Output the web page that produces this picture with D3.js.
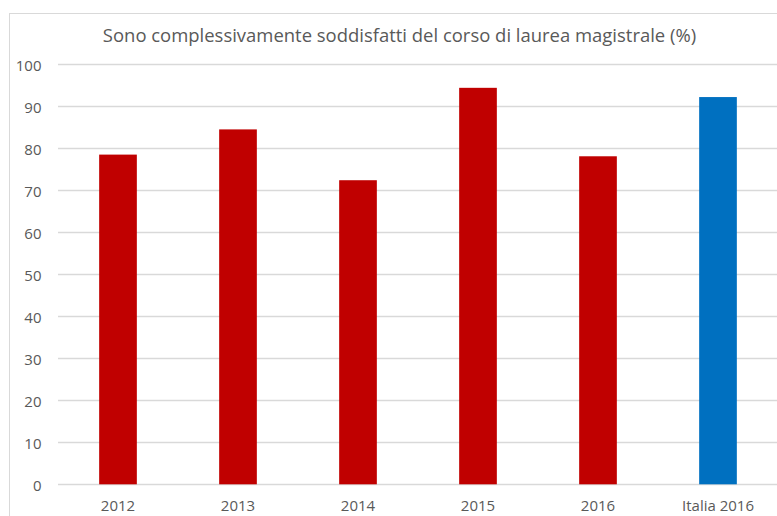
<!DOCTYPE html>
<html>
<head>
<meta charset="utf-8">
<script src="https://cdn.jsdelivr.net/npm/d3@7"></script>
<style>
  html, body { margin: 0; padding: 0; background: #fff; }
  svg { display: block; }
  text { font-family: "Open Sans", "Liberation Sans", sans-serif; fill: #595959; }
</style>
</head>
<body>
<svg id="chart" width="777" height="516"></svg>
<script>
const title = "Sono complessivamente soddisfatti del corso di laurea magistrale (%)";
const categories = ["2012", "2013", "2014", "2015", "2016", "Italia 2016"];
const values = [78.5, 84.5, 72.4, 94.4, 78.1, 92.2];
const barColors = ["#C00000", "#C00000", "#C00000", "#C00000", "#C00000", "#0070C0"];
const yTicks = [0, 10, 20, 30, 40, 50, 60, 70, 80, 90, 100];

const svg = d3.select("#chart");
const plot = { left: 58, right: 778, top: 64.3, bottom: 484.3 };

// chart frame
svg.append("rect")
  .attr("x", 9.5).attr("y", 13.5)
  .attr("width", 800).attr("height", 600)
  .attr("fill", "#fff").attr("stroke", "#d9d9d9").attr("stroke-width", 1);

const x = d3.scaleBand()
  .domain(categories)
  .range([plot.left, plot.right])
  .paddingInner(0.686)
  .paddingOuter(0.343);

const y = d3.scaleLinear().domain([0, 100]).range([plot.bottom, plot.top]);

// gridlines
svg.append("g")
  .selectAll("line")
  .data(yTicks)
  .join("line")
  .attr("x1", plot.left).attr("x2", plot.right)
  .attr("y1", d => Math.round(y(d)) + 0.5).attr("y2", d => Math.round(y(d)) + 0.5)
  .attr("stroke", "#d9d9d9").attr("stroke-width", 1.3);

// y axis labels
const yAxis = d3.axisLeft(y).tickValues(yTicks).tickSize(0).tickPadding(0);
const yg = svg.append("g").attr("transform", `translate(41.5,1.5)`).call(yAxis);
yg.select(".domain").remove();
yg.selectAll("text").style("font-size", "15px").attr("fill", "#595959")
  .style("font-family", "'Open Sans', 'Liberation Sans', sans-serif");

// bars
svg.append("g")
  .selectAll("rect")
  .data(values)
  .join("rect")
  .attr("x", (d, i) => x(categories[i]))
  .attr("width", x.bandwidth())
  .attr("y", d => y(d))
  .attr("height", d => y(0) - y(d))
  .attr("fill", (d, i) => barColors[i]);

// x axis labels
const xAxis = d3.axisBottom(x).tickSize(0).tickPadding(0);
const xg = svg.append("g").attr("transform", `translate(0,${plot.bottom + 16.5})`).call(xAxis);
xg.select(".domain").remove();
xg.selectAll("text").style("font-size", "15px").attr("fill", "#595959")
  .style("font-family", "'Open Sans', 'Liberation Sans', sans-serif");

// title, sized to fit the reference width
const t = svg.append("text")
  .attr("x", 399.5).attr("y", 41.7)
  .attr("text-anchor", "middle")
  .style("font-size", "20px")
  .text(title);
const len = t.node().getComputedTextLength();
t.style("font-size", (20 * 594 / len).toFixed(2) + "px");
</script>
</body>
</html>
